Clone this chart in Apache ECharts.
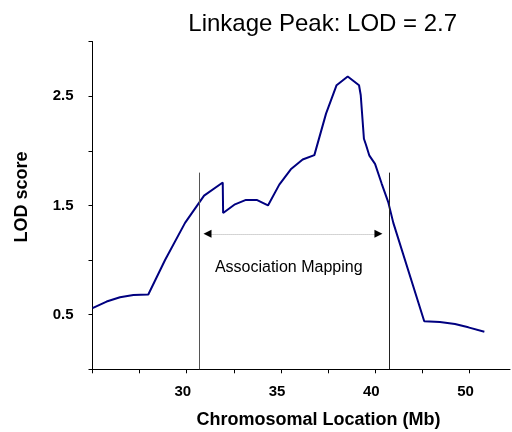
<!DOCTYPE html>
<html>
<head>
<meta charset="utf-8">
<script src="https://cdn.jsdelivr.net/npm/echarts@6/dist/echarts.min.js"></script>
<style>
html, body { margin: 0; background: #fff; }
#draw { width: 512px; height: 432px; }
</style>
</head>
<body>
<div id="draw"></div>
<script>
// linkage curve (x in axis units, y = LOD)
var locations = [25.0, 25.75, 26.46, 27.17, 27.96, 28.85, 29.91, 30.92, 31.91, 31.93,
  32.56, 33.14, 33.71, 34.31, 34.91, 35.52, 36.15, 36.77, 37.39, 37.95,
  38.54, 39.14, 39.23, 39.40, 39.50, 39.69, 39.99, 40.34, 40.69, 40.96,
  42.6, 43.43, 44.23, 44.94, 45.79];
var lodScores = [0.56, 0.62, 0.66, 0.68, 0.685, 1.0, 1.34, 1.59, 1.71, 1.43,
  1.51, 1.55, 1.55, 1.50, 1.69, 1.83, 1.92, 1.96, 2.34, 2.60,
  2.68, 2.60, 2.51, 2.11, 2.06, 1.955, 1.88, 1.70, 1.53, 1.34,
  0.44, 0.433, 0.415, 0.384, 0.344];

var xTickValues = [25, 27.5, 30, 32.5, 35, 37.5, 40, 42.5, 45];
var xLabelValues = [30, 35, 40, 45];
var xLabelTexts = ["30", "35", "40", "50"];
var yLabelValues = [0.5, 1.5, 2.5];

// association mapping interval
var mappingBounds = [30.67, 40.72];
var mappingTop = 1.8;
var arrowFrom = 31.1, arrowTo = 40.17, arrowLevel = 1.24;
var noteAt = [35.41, 0.93];

var chart = echarts.init(document.getElementById("draw"));
var font = '"Liberation Sans", Arial, sans-serif';

var points = [];
for (var i = 0; i < locations.length; i++) {
  points.push([locations[i], lodScores[i]]);
}

var option = {
  animation: false,
  backgroundColor: "#fff",
  grid: { left: 92.5, right: 2, top: 41.5, bottom: 62.7 },
  xAxis: {
    type: "value",
    min: 25,
    max: 47.15,
    interval: 2.5,
    splitLine: { show: false },
    axisLine: { lineStyle: { color: "#000", width: 1 } },
    axisTick: { inside: false, length: 4, customValues: xTickValues, lineStyle: { color: "#000" } },
    axisLabel: {
      customValues: xLabelValues,
      margin: 15,
      padding: [0, 8, 0, 0],
      color: "#000",
      fontFamily: font,
      fontWeight: "bold",
      fontSize: 15,
      formatter: function (v) {
        var k = xLabelValues.indexOf(v);
        return k >= 0 ? xLabelTexts[k] : "";
      }
    }
  },
  yAxis: {
    type: "value",
    min: 0,
    max: 3,
    interval: 0.5,
    splitLine: { show: false },
    axisLine: { show: true, lineStyle: { color: "#000", width: 1 } },
    axisTick: { show: true, inside: false, length: 4, lineStyle: { color: "#000" } },
    axisLabel: {
      customValues: yLabelValues,
      margin: 19,
      padding: [4, 0, 0, 0],
      color: "#000",
      fontFamily: font,
      fontWeight: "bold",
      fontSize: 15,
      formatter: function (v) { return v.toFixed(1); }
    }
  },
  graphic: [
    {
      type: "text", x: 322.7, y: 24,
      style: { text: "Linkage Peak: LOD = 2.7", font: '24px ' + font, fill: "#000", align: "center", verticalAlign: "middle" }
    },
    {
      type: "text", x: 318.5, y: 420.5,
      style: { text: "Chromosomal Location (Mb)", font: 'bold 18px ' + font, fill: "#000", align: "center", verticalAlign: "middle" }
    },
    {
      type: "text", x: 22, y: 197, rotation: Math.PI / 2,
      style: { text: "LOD score", font: 'bold 18px ' + font, fill: "#000", align: "center", verticalAlign: "middle" }
    }
  ],
  series: [
    {
      type: "line",
      data: points,
      symbol: "none",
      smooth: false,
      lineStyle: { color: "#000080", width: 2 },
      markLine: {
        silent: true,
        symbol: "none",
        label: { show: false },
        data: [
          [{ coord: [mappingBounds[0], 0], lineStyle: { color: "#555", width: 1, type: "solid" } },
           { coord: [mappingBounds[0], mappingTop] }],
          [{ coord: [mappingBounds[1], 0], lineStyle: { color: "#222", width: 1, type: "solid" } },
           { coord: [mappingBounds[1], mappingTop] }],
          [{ coord: [arrowFrom, arrowLevel], lineStyle: { color: "#aaa", width: 1, type: "dotted" } },
           { coord: [arrowTo, arrowLevel] }]
        ]
      },
      markPoint: {
        silent: true,
        data: [
          { coord: noteAt, symbol: "circle", symbolSize: 0,
            itemStyle: { color: "rgba(0,0,0,0)" },
            label: { show: true, position: "inside", color: "#000", fontFamily: font, fontSize: 16,
                     formatter: "Association Mapping" } },
          { coord: [arrowFrom, arrowLevel], symbol: "triangle", symbolSize: [8, 8], symbolRotate: 90,
            itemStyle: { color: "#000" }, label: { show: false } },
          { coord: [arrowTo, arrowLevel], symbol: "triangle", symbolSize: [8, 8], symbolRotate: -90,
            itemStyle: { color: "#000" }, label: { show: false } }
        ]
      }
    }
  ]
};

chart.setOption(option);
</script>
</body>
</html>
